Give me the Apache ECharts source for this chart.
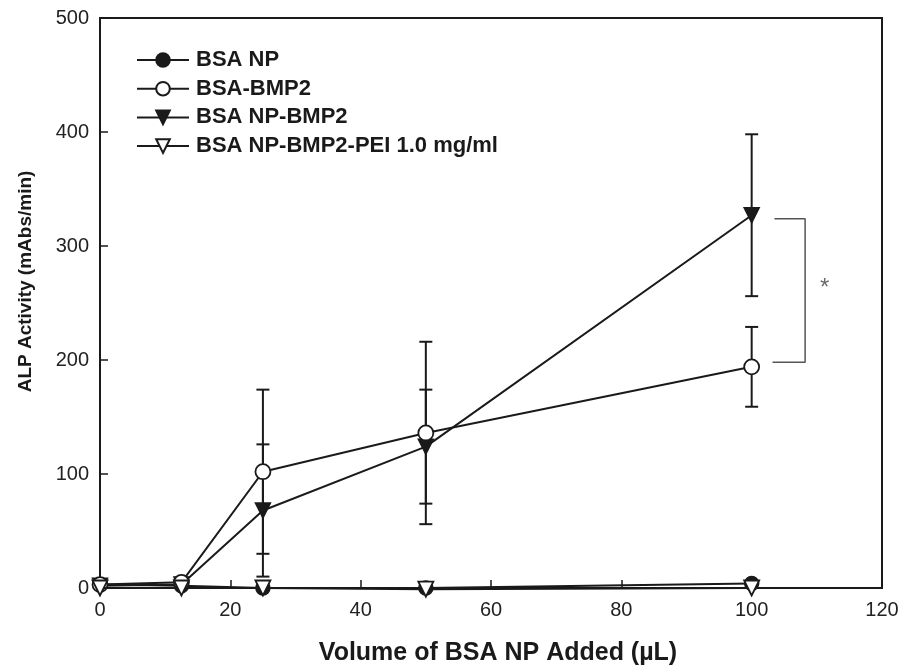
<!DOCTYPE html>
<html>
<head>
<meta charset="utf-8">
<script src="https://cdn.jsdelivr.net/npm/echarts@6/dist/echarts.min.js"></script>
<style>
  html, body { margin: 0; padding: 0; background: #fff; }
  #chart { width: 902px; height: 670px; }
</style>
</head>
<body>
<div id="chart"></div>
<script>
// volumes of BSA NP added (µL)
const volumes = [0, 12.5, 25, 50, 100];

// ALP activity (mAbs/min)
const bsaNP = [3, 2, 0, 0, 4];
const bsaBMP2 = [3, 5, 102, 136, 194];
const npBMP2 = [2, 3, 68, 124, 327];
const npBMP2PEI = [0, 0, 0, -1, 0];

// error bar half-widths
const bsaBMP2Err = [0, 0, 72, 80, 35];
const npBMP2Err = [0, 0, 58, 50, 71];

// significance bracket between the two groups at 100 µL
const bracketX = [103.5, 108.2];
const bracketY = [324, 198];
const starPos = [111.2, 263];

const font = '"Liberation Sans", Arial, Helvetica, sans-serif';
const ink = '#1a1a1a';

const pairs = (vals) => volumes.map((x, i) => [x, vals[i]]);
const errRows = (vals, errs) => volumes
  .map((x, i) => [x, vals[i] - errs[i], vals[i] + errs[i]])
  .filter((r, i) => errs[i] > 0);

function errorBar(params, api) {
  const lo = api.coord([api.value(0), api.value(1)]);
  const hi = api.coord([api.value(0), api.value(2)]);
  const w = 6.5;
  const style = { stroke: ink, lineWidth: 2 };
  return {
    type: 'group',
    children: [
      { type: 'line', shape: { x1: lo[0], y1: lo[1], x2: hi[0], y2: hi[1] }, style },
      { type: 'line', shape: { x1: lo[0] - w, y1: lo[1], x2: lo[0] + w, y2: lo[1] }, style },
      { type: 'line', shape: { x1: hi[0] - w, y1: hi[1], x2: hi[0] + w, y2: hi[1] }, style }
    ]
  };
}

const lineBase = {
  type: 'line',
  clip: false,
  lineStyle: { color: ink, width: 2 },
  itemStyle: { color: ink, borderColor: ink, borderWidth: 1.5 },
  emphasis: { disabled: true },
  animation: false
};

const chart = echarts.init(document.getElementById('chart'));
chart.setOption({
  animation: false,
  textStyle: { fontFamily: font },
  grid: {
    left: 100, right: 20, top: 18, bottom: 82,
    outerBoundsMode: 'none',
    show: true, borderColor: ink, borderWidth: 2
  },
  legend: {
    orient: 'vertical',
    left: 131, top: 44,
    itemWidth: 52, itemHeight: 17, itemGap: 6.7,
    data: ['BSA NP', 'BSA-BMP2', 'BSA NP-BMP2', 'BSA NP-BMP2-PEI 1.0 mg/ml'],
    textStyle: { fontFamily: font, fontSize: 22, fontWeight: 'bold', color: ink, padding: [0, 0, 0, 2] }
  },
  xAxis: {
    type: 'value',
    min: 0, max: 120, interval: 20,
    name: 'Volume of BSA NP Added (µL)',
    nameLocation: 'middle',
    nameGap: 53,
    nameTextStyle: { fontFamily: font, fontSize: 25, fontWeight: 'bold', color: ink, padding: [0, 0, 0, 14] },
    axisLine: { lineStyle: { color: ink, width: 2 } },
    axisTick: { inside: true, length: 8, lineStyle: { color: ink, width: 1.5 } },
    axisLabel: { fontSize: 20, color: '#222', margin: 12 },
    splitLine: { show: false }
  },
  yAxis: {
    type: 'value',
    min: 0, max: 500, interval: 100,
    name: 'ALP Activity (mAbs/min)',
    nameLocation: 'middle',
    nameGap: 65,
    nameTextStyle: { fontFamily: font, fontSize: 19, fontWeight: 'bold', color: ink, padding: [0, 0, 0, 43] },
    axisLine: { lineStyle: { color: ink, width: 2 } },
    axisTick: { inside: true, length: 8, lineStyle: { color: ink, width: 1.5 } },
    axisLabel: { fontSize: 20, color: '#222', margin: 11 },
    splitLine: { show: false }
  },
  series: [
    {
      type: 'custom', name: 'err1', renderItem: errorBar, silent: true,
      data: errRows(bsaBMP2, bsaBMP2Err), z: 1
    },
    {
      type: 'custom', name: 'err2', renderItem: errorBar, silent: true,
      data: errRows(npBMP2, npBMP2Err), z: 1
    },
    Object.assign({}, lineBase, {
      name: 'BSA NP',
      data: pairs(bsaNP),
      symbol: 'circle', symbolSize: 14,
      z: 2
    }),
    Object.assign({}, lineBase, {
      name: 'BSA NP-BMP2',
      data: pairs(npBMP2),
      symbol: 'triangle', symbolRotate: 180, symbolSize: 15,
      z: 3
    }),
    Object.assign({}, lineBase, {
      name: 'BSA-BMP2',
      data: pairs(bsaBMP2),
      symbol: 'circle', symbolSize: 15,
      itemStyle: { color: '#fff', borderColor: ink, borderWidth: 1.8 },
      z: 4
    }),
    Object.assign({}, lineBase, {
      name: 'BSA NP-BMP2-PEI 1.0 mg/ml',
      data: pairs(npBMP2PEI),
      symbol: 'triangle', symbolRotate: 180, symbolSize: 15,
      itemStyle: { color: '#fff', borderColor: ink, borderWidth: 1.8 },
      z: 5
    }),
    {
      type: 'line', name: 'bracket', silent: true, symbol: 'none', clip: false,
      lineStyle: { color: '#555', width: 1.5 },
      data: [
        [bracketX[0], bracketY[0]],
        [bracketX[1], bracketY[0]],
        [bracketX[1], bracketY[1]],
        [bracketX[0] - 0.3, bracketY[1]]
      ]
    },
    {
      type: 'scatter', name: 'star', silent: true, symbolSize: 1, clip: false,
      itemStyle: { color: 'rgba(0,0,0,0)' },
      label: {
        show: true, position: 'inside', formatter: '*',
        fontSize: 24, color: '#444', fontFamily: font
      },
      data: [starPos]
    }
  ]
});
</script>
</body>
</html>
